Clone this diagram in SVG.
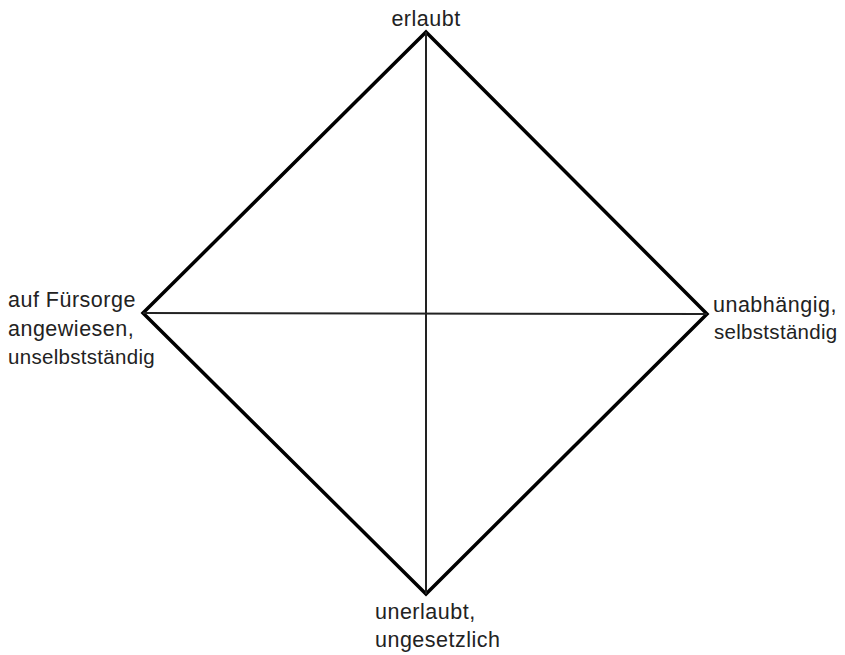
<svg xmlns="http://www.w3.org/2000/svg" width="845" height="655" viewBox="0 0 845 655">
<style>
text{font-family:"Liberation Sans",Arial,sans-serif;fill:#222;font-size:21.5px;letter-spacing:0.5px}
.s{font-size:20.5px;letter-spacing:0.3px}
.d{fill:none;stroke:#000;stroke-width:3.5;stroke-linejoin:miter}
.c{stroke:#222;stroke-width:2}
</style>
<rect width="845" height="655" fill="#fff"/>
<g id="connectors">
<polygon class="d" points="426,32 707,314 426,594 143,313"/>
<line class="c" x1="426" y1="32" x2="426" y2="594"/>
<line class="c" x1="143" y1="313" x2="707" y2="314"/>
</g>
<g id="top"><text x="426" y="26" text-anchor="middle">erlaubt</text></g>
<g id="left">
<text x="8" y="307">auf Fürsorge</text>
<text x="8" y="336">angewiesen,</text>
<text x="8" y="364" class="s">unselbstständig</text>
</g>
<g id="right">
<text x="713" y="312">unabhängig,</text>
<text x="714" y="339" class="s">selbstständig</text>
</g>
<g id="bottom">
<text x="375" y="619">unerlaubt,</text>
<text x="375" y="647">ungesetzlich</text>
</g>
</svg>
